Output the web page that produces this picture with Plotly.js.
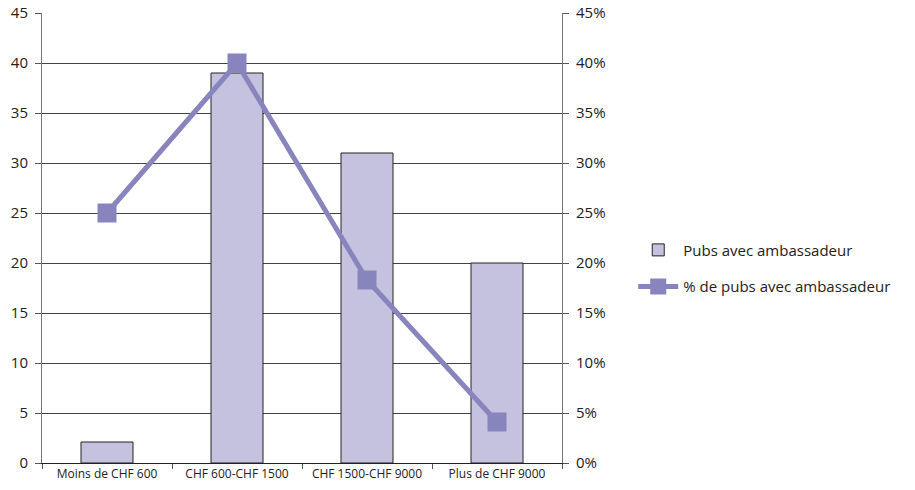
<!DOCTYPE html>
<html>
<head>
<meta charset="utf-8">
<script src="https://cdn.plot.ly/plotly-3.0.1.min.js"></script>
<style>html,body{margin:0;padding:0;background:#fff}#chart{width:915px;height:490px}</style>
</head>
<body>
<div id="chart"></div>
<script>
const categories = ["Moins de CHF 600", "CHF 600-CHF 1500", "CHF 1500-CHF 9000", "Plus de CHF 9000"];
const pubsAvecAmbassadeur = [2.1, 39, 31, 20];
const pctPubsAvecAmbassadeur = [0.25, 0.40, 0.183, 0.041];
const leftTicks = [0, 5, 10, 15, 20, 25, 30, 35, 40, 45];
const rightTicks = [0, 0.05, 0.10, 0.15, 0.20, 0.25, 0.30, 0.35, 0.40, 0.45];

const font = "Open Sans, Lato, sans-serif";

const traces = [
  {
    type: "bar",
    name: "Pubs avec ambassadeur",
    legendgroup: "bars",
    x: categories,
    y: pubsAvecAmbassadeur,
    marker: { color: "#c5c2e0", line: { color: "#222", width: 1 } },
    hoverinfo: "skip"
  },
  {
    type: "scatter",
    mode: "lines+markers",
    name: "% de pubs avec ambassadeur",
    legendgroup: "line",
    x: categories,
    y: pctPubsAvecAmbassadeur,
    yaxis: "y2",
    line: { color: "#8884be", width: 5 },
    marker: { symbol: "square", size: 19, color: "#8884be" },
    hoverinfo: "skip"
  }
];

const layout = {
  width: 915,
  height: 490,
  margin: { l: 42, r: 353, t: 13, b: 27 },
  paper_bgcolor: "#fff",
  plot_bgcolor: "#fff",
  font: { family: font, color: "#222", size: 15 },
  bargap: 0.6,
  showlegend: true,
  legend: {
    x: 1.137, xanchor: "left",
    y: 0.433, yanchor: "middle",
    font: { family: font, size: 15, color: "#222" },
    tracegroupgap: 14,
    itemwidth: 40,
    bgcolor: "rgba(0,0,0,0)"
  },
  xaxis: {
    type: "category",
    tickson: "boundaries",
    ticks: "outside",
    ticklen: 5,
    tickcolor: "#555",
    showline: true,
    linecolor: "#222",
    linewidth: 1,
    showgrid: false,
    tickfont: { family: font, size: 12, color: "#222" },
    fixedrange: true
  },
  yaxis: {
    range: [0, 45],
    tickvals: leftTicks,
    ticktext: leftTicks.map(String),
    ticks: "outside",
    ticklen: 6,
    tickcolor: "#555",
    showline: true,
    linecolor: "#777",
    showgrid: true,
    gridcolor: "#444",
    gridwidth: 1,
    zeroline: false,
    tickfont: { family: font, size: 15, color: "#222" },
    ticklabelstandoff: 4
  },
  yaxis2: {
    overlaying: "y",
    side: "right",
    range: [0, 0.45],
    tickvals: rightTicks,
    tickformat: ".0%",
    ticks: "outside",
    ticklen: 6,
    tickcolor: "#555",
    showline: true,
    linecolor: "#777",
    showgrid: false,
    zeroline: false,
    ticklabelstandoff: 4,
    tickfont: { family: font, size: 15, color: "#222" }
  }
};

Plotly.newPlot("chart", traces, layout, { displayModeBar: false, staticPlot: true });
</script>
</body>
</html>
